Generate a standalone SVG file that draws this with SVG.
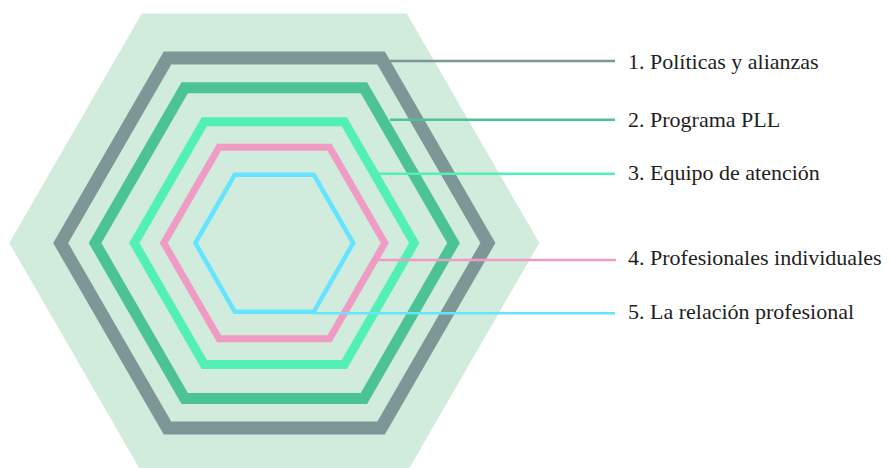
<svg xmlns="http://www.w3.org/2000/svg" width="890" height="468" viewBox="0 0 890 468">
  <style>
    .ring { fill: none; stroke-linejoin: miter; }
    .lead { fill: none; stroke-width: 2.5; }
    text { font-family: 'Liberation Serif', 'Times New Roman', Times, serif; font-size: 22px; fill: #1e1e1e; }
  </style>
  <rect width="890" height="468" fill="#ffffff"/>
  <g id="background">
    <polygon points="9.3,243 141.8,13.5 406.8,13.5 539.3,243 406.8,472.5 141.8,472.5" fill="#D1EBDD"/>
  </g>
  <g id="node1">
    <polygon class="ring" points="60.7,243 167.5,58 381.1,58 487.9,243 381.1,428 167.5,428" stroke="#7D9796" stroke-width="13"/>
    <text x="628" y="68.5" font-family="Liberation Serif, serif">1. Políticas y alianzas</text>
  </g>
  <g id="node2">
    <polygon class="ring" points="95.1,243 184.7,87.8 363.9,87.8 453.5,243 363.9,398.4 184.7,398.4" stroke="#4BC394" stroke-width="11"/>
    <text x="628" y="126.7" font-family="Liberation Serif, serif">2. Programa PLL</text>
  </g>
  <g id="node3">
    <polygon class="ring" points="134.3,243 204.3,121.8 344.3,121.8 414.3,243 344.3,364.6 204.3,364.6" stroke="#52F0B4" stroke-width="9"/>
    <text x="628" y="179.5" font-family="Liberation Serif, serif">3. Equipo de atención</text>
  </g>
  <g id="node4">
    <polygon class="ring" points="163.8,243 219.05,147.3 329.55,147.3 384.8,243 329.55,338.7 219.05,338.7" stroke="#F09BC3" stroke-width="7"/>
    <text x="628" y="265" font-family="Liberation Serif, serif">4. Profesionales individuales</text>
  </g>
  <g id="node5">
    <polygon class="ring" points="195.4,243 234.85,174.7 313.75,174.7 353.2,243 313.75,311.8 234.85,311.8" stroke="#64E4FF" stroke-width="4.5"/>
    <text x="628" y="319.3" font-family="Liberation Serif, serif">5. La relación profesional</text>
  </g>
  <g id="connectors">
    <line class="lead" x1="390" y1="61" x2="615" y2="61" stroke="#7D9796"/>
    <line class="lead" x1="390" y1="119.7" x2="615" y2="119.7" stroke="#4BC394"/>
    <line class="lead" x1="378" y1="173.7" x2="615" y2="173.7" stroke="#52F0B4"/>
    <line class="lead" x1="377" y1="260" x2="616" y2="260" stroke="#F09BC3"/>
    <line class="lead" x1="313" y1="313.3" x2="615" y2="313.3" stroke="#64E4FF"/>
  </g>
</svg>
